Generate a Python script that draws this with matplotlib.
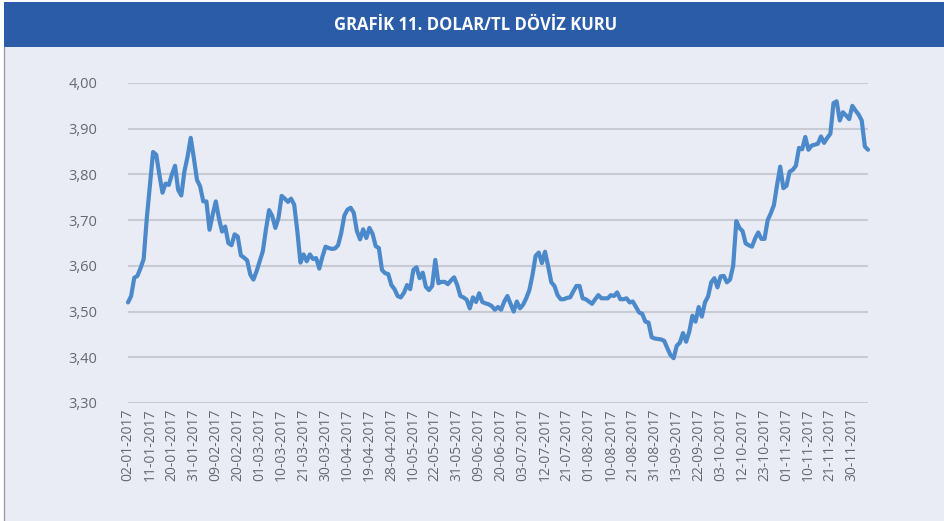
import matplotlib.pyplot as plt
from matplotlib.patches import Rectangle

# Dolar/TL kuru, 2017 (her iş günü bir değer)
kur = [
    3.520, 3.534, 3.574, 3.578, 3.595, 3.615, 3.705, 3.777, 3.849, 3.843,
    3.800, 3.760, 3.780, 3.777, 3.800, 3.819, 3.766, 3.754, 3.807, 3.839,
    3.880, 3.836, 3.788, 3.774, 3.741, 3.741, 3.679, 3.712, 3.741, 3.704,
    3.675, 3.686, 3.650, 3.645, 3.669, 3.664, 3.623, 3.618, 3.612, 3.581,
    3.570, 3.588, 3.610, 3.632, 3.680, 3.722, 3.709, 3.683, 3.705, 3.753,
    3.747, 3.740, 3.747, 3.734, 3.676, 3.607, 3.625, 3.610, 3.625, 3.615,
    3.617, 3.594, 3.620, 3.642, 3.639, 3.637, 3.638, 3.645, 3.672, 3.710,
    3.723, 3.727, 3.716, 3.676, 3.658, 3.680, 3.661, 3.683, 3.670, 3.643,
    3.639, 3.591, 3.584, 3.582, 3.558, 3.549, 3.534, 3.531, 3.541, 3.558,
    3.549, 3.591, 3.597, 3.573, 3.585, 3.554, 3.547, 3.556, 3.613, 3.562,
    3.565, 3.565, 3.560, 3.568, 3.575, 3.558, 3.534, 3.531, 3.526, 3.507,
    3.531, 3.521, 3.540, 3.521, 3.518, 3.516, 3.512, 3.504, 3.510, 3.504,
    3.522, 3.534, 3.517, 3.500, 3.522, 3.507, 3.515, 3.529, 3.547, 3.580,
    3.622, 3.629, 3.606, 3.631, 3.599, 3.564, 3.556, 3.536, 3.527, 3.527,
    3.530, 3.531, 3.544, 3.556, 3.556, 3.529, 3.527, 3.522, 3.517, 3.527,
    3.536, 3.529, 3.529, 3.529, 3.536, 3.534, 3.542, 3.527, 3.527, 3.529,
    3.520, 3.522, 3.510, 3.498, 3.495, 3.478, 3.476, 3.444, 3.441, 3.440,
    3.439, 3.436, 3.420, 3.405, 3.398, 3.425, 3.432, 3.453, 3.434, 3.456,
    3.491, 3.478, 3.510, 3.489, 3.520, 3.533, 3.564, 3.573, 3.553, 3.577,
    3.578, 3.564, 3.570, 3.600, 3.698, 3.683, 3.676, 3.649, 3.645, 3.642,
    3.660, 3.673, 3.659, 3.659, 3.700, 3.715, 3.733, 3.777, 3.817, 3.770,
    3.775, 3.806, 3.810, 3.819, 3.858, 3.855, 3.882, 3.854, 3.863, 3.865,
    3.867, 3.883, 3.869, 3.880, 3.889, 3.956, 3.960, 3.918, 3.936, 3.929,
    3.921, 3.950, 3.940, 3.931, 3.918, 3.861, 3.854,
]

# her 7 iş gününde bir tarih etiketi
tarihler = [
    '02-01-2017', '11-01-2017', '20-01-2017', '31-01-2017', '09-02-2017',
    '20-02-2017', '01-03-2017', '10-03-2017', '21-03-2017', '30-03-2017',
    '10-04-2017', '19-04-2017', '28-04-2017', '10-05-2017', '22-05-2017',
    '31-05-2017', '09-06-2017', '20-06-2017', '03-07-2017', '12-07-2017',
    '21-07-2017', '01-08-2017', '10-08-2017', '21-08-2017', '31-08-2017',
    '13-09-2017', '22-09-2017', '03-10-2017', '12-10-2017', '23-10-2017',
    '01-11-2017', '10-11-2017', '21-11-2017', '30-11-2017',
]

y_ticks = [3.30, 3.40, 3.50, 3.60, 3.70, 3.80, 3.90, 4.00]

bg = '#E9ECF5'
fig = plt.figure(figsize=(9.45, 5.21), dpi=100)
fig.patch.set_facecolor('white')

# arka plan ve başlık bandı
fig.patches.append(Rectangle((4 / 945, 0), 1, 1 - 47 / 521, transform=fig.transFigure,
                             facecolor=bg, edgecolor='none', zorder=-10))
fig.patches.append(Rectangle((4 / 945, 1 - 47 / 521), 1, 45 / 521, transform=fig.transFigure,
                             facecolor='#2B5CA8', edgecolor='none', zorder=-10))
fig.lines.append(plt.Line2D([4 / 945, 4 / 945], [0, 1 - 47 / 521], transform=fig.transFigure,
                            color='#9A9FAD', lw=1, zorder=-5))
fig.text(0.503, 1 - 25 / 521, 'GRAFİK 11. DOLAR/TL DÖVİZ KURU', color='white',
         fontsize=12, fontweight='bold', ha='center', va='center', family='Open Sans')

ax = fig.add_axes([128 / 945, 1 - 403 / 521, 740 / 945, 320 / 521])
ax.set_zorder(1)
ax.set_facecolor(bg)
x = list(range(len(kur)))
ax.plot(x, kur, color='#4C89CB', lw=3, solid_capstyle='round', solid_joinstyle='round',
        zorder=3, clip_on=False)

ax.set_ylim(3.30, 4.00)
ax.set_xlim(0, len(kur) - 1)
ax.set_yticks(y_ticks)
ax.set_yticklabels([f'{v:.2f}'.replace('.', ',') for v in y_ticks])
ax.set_xticks(range(0, len(kur), 7))
ax.set_xticklabels(tarihler, rotation=90)
ax.grid(axis='y', color='#C9CBD3', lw=1.5)
ax.set_axisbelow(True)
for s in ax.spines.values():
    s.set_visible(False)
ax.tick_params(length=0, colors='#666870', labelsize=10.5)
ax.tick_params(axis='y', pad=22)
ax.tick_params(axis='x', pad=4, labelsize=10)
for t in ax.get_xticklabels() + ax.get_yticklabels():
    t.set_family('Open Sans')

plt.savefig('out.png', dpi=100, facecolor=fig.get_facecolor())
